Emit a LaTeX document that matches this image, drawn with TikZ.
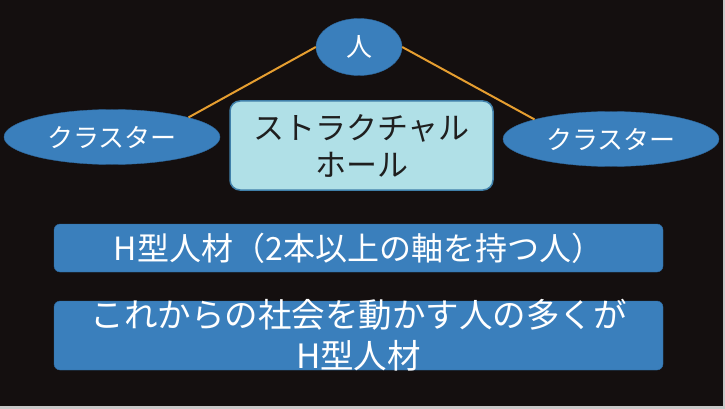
\documentclass[tikz,border=0pt]{standalone}
\usepackage{fontspec}
\setmainfont{Noto Sans CJK JP}
\usetikzlibrary{shapes.geometric}

\definecolor{slide}{RGB}{20,15,15}
\definecolor{rim}{RGB}{200,200,200}
\definecolor{shapeblue}{RGB}{58,127,188}
\definecolor{shapeedge}{RGB}{46,104,158}
\definecolor{holefill}{RGB}{176,224,231}
\definecolor{holeedge}{RGB}{64,128,170}
\definecolor{linkorange}{RGB}{230,158,48}

\begin{document}
\begin{tikzpicture}[x=1pt, y=-1pt, node distance=87.5pt]
    % Styles
    \tikzstyle{oval} = [ellipse, draw=shapeedge, fill=shapeblue, text=white, inner sep=0pt, font=\fontsize{26}{30}\selectfont]
    \tikzstyle{hole} = [rectangle, draw=holeedge, line width=1.5pt, fill=holefill, text=black!88, rounded corners=10pt, minimum width=263pt, minimum height=89pt, align=center, font=\fontsize{31}{37}\selectfont]
    \tikzstyle{bar} = [rectangle, draw=shapeedge, fill=shapeblue, text=white, rounded corners=6pt, minimum width=609pt, inner ysep=0pt, align=center, font=\fontsize{32}{39.5}\selectfont]
    \tikzstyle{link} = [draw=linkorange, line width=2pt]

    % Background
    \fill [rim] (0,0) rectangle (725,409);
    \fill [slide] (0,0) rectangle (723,406);

    % Nodes
    \node [oval, minimum width=86pt, minimum height=57pt] (person) at (359,47) {人};
    \node [oval, minimum width=216pt, minimum height=55pt] (leftcluster) at (112,137) {クラスター};
    \node [oval, minimum width=216pt, minimum height=55pt] (rightcluster) at (611,139) {クラスター};
    \node [hole] (hole) at (361.5,145.5) {ストラクチャル\\ホール};
    \node [bar, minimum height=48pt] (hbar) at (358.5,248) {H型人材（2本以上の軸を持つ人）};
    \node [bar, minimum height=69pt, inner ysep=-4pt, font=\fontsize{33.5}{41}\selectfont, below of=hbar] (future) {これからの社会を動かす人の多くが\\H型人材};

    % Lines
    \draw [link] (person.west) -- (leftcluster.north east);
    \draw [link] (person.east) -- (rightcluster.north west);
\end{tikzpicture}
\end{document}
